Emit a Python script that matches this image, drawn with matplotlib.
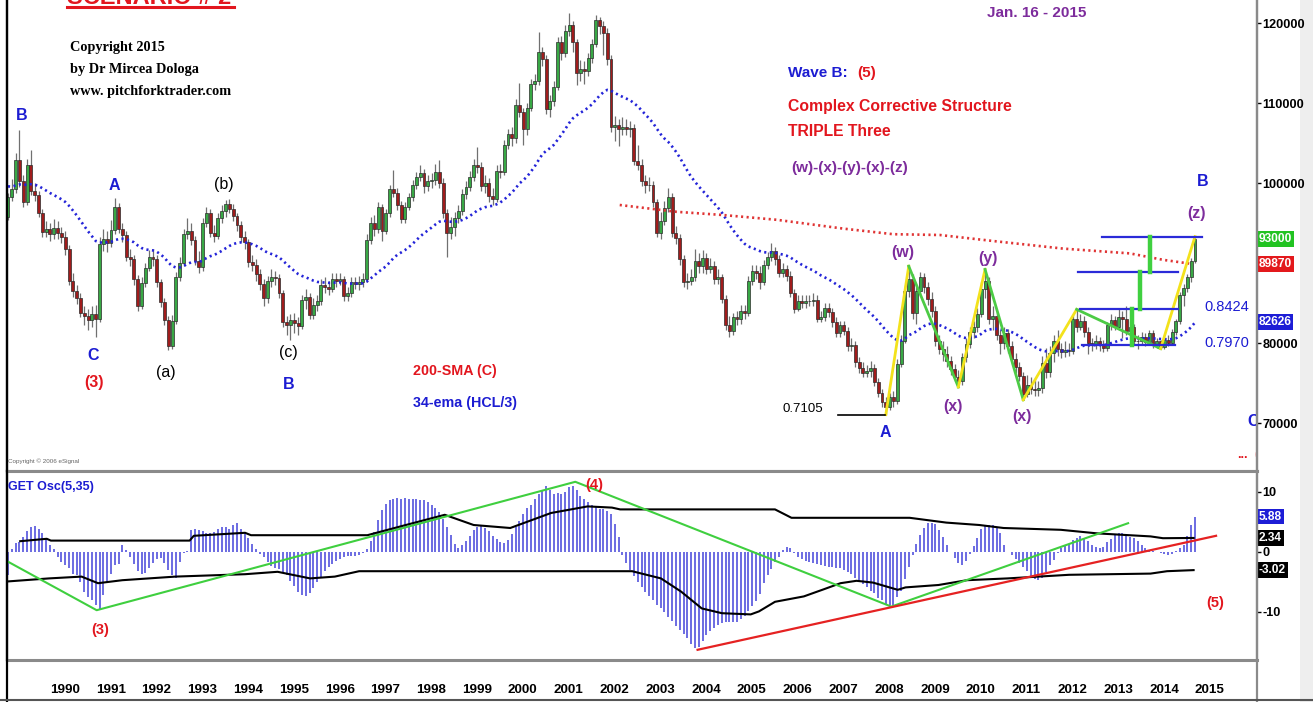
import numpy as np
import matplotlib
matplotlib.use("Agg")
import matplotlib.pyplot as plt
import matplotlib.transforms as mtrans
from matplotlib.lines import Line2D
from matplotlib.patches import Rectangle

plt.rcParams['font.family'] = ['Liberation Sans', 'DejaVu Sans']

# ---------------- data (monthly) ----------------
start_year, start_month = 1989, 2
open_first = 95.8
close = [
    98.3, 99.2, 102.9, 100.2, 97.6, 102.3, 99.0, 98.5, 96.3, 93.9,
    94.3, 93.6, 94.4, 93.7, 93.3, 91.7, 87.7, 86.5, 85.6, 83.8,
    83.4, 82.9, 83.6, 83.0, 92.4, 93.0, 92.5, 94.1, 97.0, 94.3,
    93.5, 90.8, 90.5, 88.0, 84.6, 87.5, 89.4, 90.7, 90.5, 87.6,
    85.1, 82.9, 79.6, 82.8, 88.3, 90.0, 93.6, 94.0, 92.9, 90.2,
    89.5, 95.0, 96.2, 93.8, 93.4, 95.6, 96.5, 97.4, 96.8, 95.9,
    94.7, 93.2, 92.6, 90.1, 89.8, 88.6, 87.4, 85.6, 87.7, 88.2,
    88.1, 86.2, 82.6, 82.2, 82.9, 82.5, 82.1, 85.4, 85.8, 83.5,
    84.8, 85.2, 87.3, 87.0, 86.8, 88.0, 87.8, 88.0, 85.9, 86.2,
    87.6, 87.4, 87.6, 88.0, 92.9, 95.0, 94.2, 97.0, 94.0, 96.2,
    99.3, 98.8, 97.2, 95.5, 97.0, 98.2, 99.8, 100.8, 101.2, 99.6,
    100.2, 100.4, 101.4, 100.0, 96.2, 93.8, 94.5, 95.6, 96.5, 98.6,
    99.5, 100.8, 102.3, 102.0, 99.6, 100.0, 98.4, 98.0, 101.5, 101.4,
    104.8, 106.1, 105.6, 109.8, 108.9, 106.8, 109.4, 112.4, 112.8, 116.4,
    115.5, 109.3, 110.2, 112.0, 117.6, 116.3, 119.0, 119.7, 117.6, 113.8,
    114.3, 114.0, 115.6, 117.4, 120.4, 119.6, 118.8, 115.5, 107.0, 107.2,
    106.8, 107.0, 106.8, 106.9, 102.8, 102.3, 100.2, 99.8, 99.8, 97.6,
    93.8, 95.3, 96.9, 98.2, 93.8, 93.1, 90.5, 87.6, 87.8, 88.2,
    90.3, 89.6, 90.6, 89.3, 89.6, 88.0, 88.2, 85.5, 82.2, 81.5,
    83.2, 83.0, 84.0, 83.8, 87.8, 89.0, 88.8, 87.6, 89.8, 90.7,
    91.5, 90.5, 88.8, 89.2, 88.4, 86.3, 84.3, 85.2, 85.0, 85.3,
    85.2, 85.4, 83.0, 83.2, 84.4, 83.9, 82.6, 81.3, 82.2, 81.5,
    79.6, 79.8, 77.6, 76.9, 76.3, 76.5, 76.9, 75.1, 73.8, 72.6,
    72.0, 73.2, 72.8, 77.4, 80.3, 86.5, 88.0, 83.8, 86.5, 88.2,
    87.0, 85.5, 84.0, 80.2, 79.3, 78.6, 77.8, 76.8, 75.8, 75.2,
    78.2, 79.9, 81.4, 82.0, 83.6, 86.8, 87.8, 83.0, 83.4, 81.0,
    80.0, 81.3, 79.6, 78.0, 77.0, 75.9, 73.6, 74.8, 74.3, 74.1,
    74.4, 77.5, 76.4, 78.8, 80.2, 79.3, 78.9, 79.1, 79.0, 83.0,
    82.0, 82.8, 81.4, 80.0, 79.8, 80.2, 79.7, 79.4, 82.2, 82.9,
    82.0, 83.2, 83.0, 81.5, 82.0, 80.2, 80.3, 80.7, 80.1, 81.2,
    79.8, 80.2, 79.5, 80.4, 80.0, 81.4, 82.7, 86.0, 86.9, 88.3,
    90.3, 93.0]
high = [
    98.8, 100.5, 103.8, 106.6, 101.0, 103.0, 104.1, 100.0, 99.0, 96.8,
    95.2, 95.0, 95.5, 95.2, 94.5, 94.0, 92.3, 88.7, 87.2, 86.2,
    84.6, 84.2, 84.6, 84.8, 93.2, 94.2, 94.0, 95.4, 98.1, 97.5,
    95.0, 94.0, 91.8, 91.0, 88.5, 88.2, 90.0, 91.6, 91.8, 91.0,
    88.0, 85.6, 83.4, 83.5, 88.9, 90.8, 94.2, 95.6, 95.0, 93.4,
    91.5, 95.6, 97.0, 96.8, 94.8, 96.2, 97.2, 97.9, 98.0, 97.4,
    96.3, 95.2, 94.0, 93.0, 91.0, 90.5, 89.2, 88.0, 88.4, 89.2,
    89.0, 88.6, 86.6, 83.4, 83.6, 83.8, 83.2, 86.0, 86.8, 86.2,
    85.6, 86.0, 88.0, 88.2, 87.8, 88.8, 88.8, 88.8, 88.4, 87.0,
    88.2, 88.2, 88.4, 88.8, 93.6, 95.8, 96.0, 97.6, 97.4, 96.8,
    99.8, 101.6, 99.4, 97.8, 97.6, 98.8, 100.4, 101.4, 102.2, 101.8,
    101.0, 101.2, 102.4, 102.9, 100.6, 96.8, 95.8, 96.4, 97.2, 99.2,
    100.2, 101.5, 103.0, 104.5, 102.6, 101.0, 100.6, 99.4, 102.2, 102.4,
    105.4, 106.8, 107.0, 110.5, 112.5, 109.4, 110.0, 113.0, 113.6, 118.9,
    117.0, 116.0, 111.0, 112.8, 118.2, 118.4, 119.8, 121.2, 120.2, 118.0,
    115.4, 115.2, 116.2, 118.0, 121.0, 120.8, 120.2, 119.4, 116.0, 108.4,
    108.0, 108.2, 108.0, 107.8, 107.4, 104.8, 103.0, 101.0, 100.8, 100.2,
    98.0, 96.4, 97.8, 99.4, 98.8, 94.6, 93.6, 91.0, 88.8, 89.2,
    91.8, 91.2, 91.6, 91.2, 90.6, 90.2, 89.2, 88.6, 86.0, 83.4,
    83.8, 84.0, 84.8, 84.8, 88.4, 89.8, 89.8, 89.6, 90.4, 91.4,
    92.5, 92.0, 91.0, 90.0, 89.8, 89.0, 86.8, 86.0, 86.0, 86.0,
    86.0, 86.2, 86.0, 84.0, 85.0, 85.0, 84.4, 83.2, 82.8, 82.8,
    82.0, 80.6, 80.2, 78.2, 77.6, 77.2, 77.8, 77.4, 75.6, 74.2,
    73.2, 73.8, 74.0, 78.0, 81.0, 87.2, 89.6, 88.6, 87.2, 88.9,
    88.8, 87.6, 86.4, 84.6, 81.0, 80.2, 79.6, 78.4, 77.4, 76.6,
    78.8, 80.6, 82.0, 82.8, 84.4, 87.6, 89.2, 88.2, 84.6, 84.0,
    81.6, 82.0, 81.8, 80.2, 78.8, 77.6, 76.4, 76.0, 75.8, 75.4,
    75.2, 78.4, 79.4, 79.6, 81.0, 81.6, 80.0, 80.2, 80.0, 83.6,
    84.2, 83.6, 83.4, 82.0, 80.6, 81.0, 80.8, 80.4, 82.6, 83.6,
    83.4, 84.4, 84.0, 84.6, 82.8, 82.4, 81.0, 81.4, 81.2, 81.6,
    81.6, 80.6, 80.4, 80.8, 81.0, 81.8, 83.0, 86.4, 87.4, 88.6,
    90.6, 93.3]
low = [
    95.4, 97.8, 98.8, 99.5, 97.0, 97.2, 98.5, 97.8, 95.8, 93.3,
    93.2, 92.8, 93.0, 93.0, 92.5, 91.0, 87.2, 85.8, 84.9, 83.2,
    82.2, 81.6, 82.0, 80.8, 82.6, 91.5, 91.4, 92.0, 93.6, 93.8,
    92.6, 90.2, 89.6, 87.3, 84.0, 84.2, 87.0, 89.0, 89.6, 87.0,
    84.5, 82.3, 79.1, 79.3, 82.4, 87.8, 89.6, 93.0, 92.2, 89.7,
    88.8, 89.0, 94.5, 93.2, 92.6, 93.0, 95.0, 95.8, 96.2, 95.2,
    94.0, 92.6, 91.8, 89.5, 89.0, 87.8, 86.6, 84.6, 85.0, 87.0,
    87.2, 85.6, 82.0, 81.0, 80.4, 81.2, 81.0, 81.8, 84.2, 83.0,
    83.0, 84.0, 84.8, 86.2, 86.0, 86.4, 87.0, 87.2, 85.2, 85.2,
    85.8, 86.8, 86.6, 87.0, 87.6, 92.4, 93.4, 93.8, 92.8, 93.6,
    95.8, 98.2, 96.6, 95.0, 95.0, 96.6, 97.8, 99.2, 100.2, 98.8,
    99.0, 99.4, 99.8, 99.4, 95.6, 90.8, 93.0, 93.4, 95.0, 96.0,
    98.0, 99.0, 100.2, 101.2, 99.0, 98.8, 97.6, 97.2, 97.6, 100.6,
    101.0, 104.2, 104.6, 105.0, 108.2, 104.8, 106.0, 109.0, 111.6, 112.2,
    114.6, 108.6, 108.2, 109.6, 111.6, 115.4, 115.8, 118.4, 116.4, 112.2,
    112.8, 112.4, 113.4, 115.0, 117.0, 118.6, 116.0, 114.8, 106.4, 105.2,
    104.6, 106.0, 106.0, 105.8, 102.2, 101.6, 99.6, 98.8, 99.0, 97.0,
    93.2, 93.0, 94.8, 96.4, 93.2, 92.4, 89.8, 87.0, 86.8, 87.2,
    87.8, 88.8, 88.8, 88.6, 88.8, 87.4, 87.4, 85.0, 81.6, 80.8,
    81.0, 82.2, 82.4, 83.0, 83.4, 87.2, 88.0, 86.8, 87.2, 89.2,
    90.2, 89.8, 88.2, 88.2, 87.8, 85.8, 83.8, 84.0, 84.4, 84.4,
    84.6, 84.6, 82.6, 82.6, 82.8, 83.2, 82.0, 80.8, 80.8, 81.0,
    79.0, 79.0, 77.0, 76.2, 75.8, 75.8, 75.8, 74.6, 73.2, 72.0,
    71.05, 71.6, 72.0, 72.4, 77.0, 80.0, 85.8, 83.0, 82.4, 86.0,
    86.2, 84.8, 83.2, 79.6, 78.6, 77.8, 77.0, 76.0, 75.2, 74.5,
    74.8, 77.6, 79.4, 80.6, 81.4, 83.2, 85.6, 82.4, 81.6, 80.4,
    78.6, 79.2, 78.8, 77.4, 76.2, 75.2, 72.9, 73.2, 73.6, 73.4,
    73.4, 73.8, 75.6, 75.8, 77.6, 78.4, 78.1, 78.3, 78.4, 78.6,
    81.4, 81.6, 80.8, 78.6, 79.0, 79.2, 79.0, 78.9, 79.0, 81.6,
    81.6, 81.6, 80.6, 81.0, 81.0, 79.8, 79.2, 79.8, 79.6, 79.8,
    79.4, 79.4, 79.3, 79.2, 79.6, 79.8, 81.0, 82.4, 84.6, 86.4,
    87.6, 90.0]
osc = [
    -3.8, 0.5, 1.5, 1.7, 2.5, 3.5, 4.2, 4.3, 3.8, 3.1,
    2.2, 1.2, 0.5, -0.9, -1.6, -2.2, -2.7, -3.6, -3.8, -5.0,
    -6.6, -7.5, -8.0, -8.8, -9.5, -7.2, -5.0, -3.6, -2.2, -2.0,
    1.2, 0.3, -0.9, -2.0, -3.1, -3.7, -3.5, -2.7, -1.9, -1.2,
    -1.0, -1.9, -3.0, -3.9, -4.4, -1.6, -0.1, 0.2, 3.6, 3.9,
    3.7, 3.5, 3.2, 3.1, 3.3, 3.8, 4.1, 4.1, 3.9, 4.5,
    4.8, 3.9, 3.2, 2.4, 1.4, 0.5, -0.3, -0.8, -1.6, -2.3,
    -2.6, -2.9, -3.4, -3.9, -4.8, -5.6, -6.6, -7.2, -7.4, -6.8,
    -6.0, -5.0, -4.1, -3.2, -2.5, -2.0, -1.5, -1.2, -0.8, -0.7,
    -0.6, -0.6, -0.5, -0.1, 0.5, 1.9, 3.4, 5.4, 7.0, 8.0,
    8.6, 8.9, 9.0, 8.9, 9.0, 8.9, 8.8, 8.8, 8.7, 8.6,
    8.4, 7.9, 7.4, 6.7, 5.5, 4.2, 2.8, 1.4, 0.7, 1.2,
    1.8, 2.6, 3.6, 4.2, 4.5, 4.0, 3.5, 2.7, 2.2, 1.7,
    1.5, 2.0, 3.0, 4.2, 5.2, 6.3, 7.3, 7.8, 8.9, 9.7,
    10.2, 11.0, 10.3, 9.7, 9.8, 9.6, 10.0, 10.9, 11.0, 10.4,
    9.4, 8.8, 8.4, 7.8, 7.5, 7.2, 7.2, 6.8, 6.3, 4.6,
    2.5, -0.5, -1.9, -3.0, -4.0, -5.0, -5.8, -6.6, -7.4, -8.0,
    -8.8, -9.4, -10.0, -10.8, -11.5, -12.3, -13.0, -13.6, -14.4, -15.3,
    -16.0, -15.8, -14.8, -13.9, -13.2, -12.7, -12.2, -11.9, -11.7, -11.6,
    -11.6, -11.6, -11.2, -10.6, -9.8, -9.0, -8.2, -7.0, -5.2, -3.8,
    -2.8, -1.6, -0.9, 0.3, 0.9, 0.6, -0.2, -0.8, -1.1, -1.5,
    -1.6, -1.8, -2.0, -2.2, -2.3, -2.5, -2.5, -2.6, -2.7, -3.0,
    -3.3, -3.6, -4.3, -4.8, -5.3, -5.8, -6.5, -6.9, -7.6, -8.0,
    -8.6, -8.8, -8.8, -7.5, -6.5, -4.5, -2.5, -0.5, 1.3, 2.8,
    4.0, 4.8, 4.8, 4.6, 3.6, 2.5, 1.2, 0.0, -1.0, -1.8,
    -2.2, -1.5, -0.4, 1.0, 2.3, 3.9, 4.4, 4.5, 4.5, 4.0,
    3.1, 1.2, 0.0, -0.5, -1.2, -1.9, -2.5, -3.1, -4.0, -4.5,
    -4.7, -4.3, -3.3, -2.1, -1.4, -0.1, 0.6, 1.2, 1.4, 2.0,
    2.3, 2.6, 2.4, 1.8, 1.2, 0.8, 0.6, 0.8, 1.6, 2.2,
    2.8, 3.1, 3.1, 2.7, 2.5, 2.3, 1.8, 1.2, 0.7, 0.4,
    0.2, 0.0, -0.1, -0.3, -0.5, -0.3, 0.1, 0.6, 1.2, 2.6,
    4.5, 5.88]
ema_seed = 99.7          # 34-ema value at the left edge of the chart
sma200_t = [2002.44, 2003.68, 2004.69, 2005.87, 2007.32, 2008.41,
            2009.43, 2010.67, 2012.12, 2013.58, 2014.30, 2014.95]
sma200_v = [97.25, 96.4, 96.0, 95.4, 94.3, 93.6, 93.5, 92.7, 91.8, 91.2, 90.4, 89.87]
band_up_t = [1989.35, 1989.93, 1990.02, 1993.05, 1993.14, 1994.26, 1994.39, 1996.93,
             1997.82, 1998.62, 1999.25, 2000.05, 2000.94, 2001.74, 2002.27, 2002.45,
             2005.83, 2006.19, 2008.77, 2009.57, 2010.29, 2010.82, 2012.07, 2012.87,
             2014.03, 2014.30, 2014.97]
band_up_v = [1.8, 2.2, 1.9, 1.9, 2.7, 3.2, 2.8, 2.8, 4.6, 6.2, 4.5, 4.0, 6.5, 7.6,
             7.4, 7.1, 7.1, 5.7, 5.7, 4.9, 4.5, 4.0, 3.7, 3.1, 2.6, 2.3, 2.34]
band_lo_t = [1989.09, 1989.98, 1990.69, 1991.05, 1991.58, 1992.74, 1994.26, 1994.97,
             1995.68, 1996.22, 1996.75, 2002.45, 2002.71, 2003.34, 2003.78, 2004.23,
             2004.67, 2005.30, 2005.48, 2005.83, 2006.46, 2006.90, 2007.26, 2007.61,
             2007.97, 2008.51, 2008.68, 2009.40, 2010.02, 2010.91, 2012.25, 2014.03,
             2014.39, 2014.97]
band_lo_v = [-4.9, -4.4, -4.1, -5.2, -4.7, -4.1, -3.7, -3.3, -4.4, -4.1, -3.2, -3.2,
             -3.2, -4.4, -6.6, -9.4, -10.2, -10.4, -9.9, -8.3, -7.4, -6.2, -5.2, -4.8,
             -5.1, -6.3, -5.9, -5.5, -4.7, -4.4, -3.8, -3.6, -3.2, -3.02]
osc_green_t = [1989.08, 1991.02, 2001.47, 2008.37, 2013.54]
osc_green_v = [-1.6, -9.7, 11.7, -9.1, 4.8]
osc_red_t = [2004.14, 2015.46]
osc_red_v = [-16.3, 2.7]
years = list(range(1990, 2016))
year_labels = [str(y) for y in years]
price_ticks = [70, 80, 100, 110, 120]
price_tick_labels = ['70000', '80000', '100000', '110000', '120000']
osc_ticks = [-10, 0, 10]
osc_tick_labels = ['-10', '0', '10']
price_tags = ['93000', '89870', '82626']
price_tag_vals = [93.0, 89.87, 82.626]
osc_tags = ['5.88', '2.34', '-3.02']
osc_tag_vals = [5.88, 2.34, -3.02]
wave_pivots = [230, 236, 249, 256, 266, 280, 302, 311]   # A,(w),(x),(y),(x),top,low,(z)
fib_levels = [93.2, 88.9, 84.24, 79.70]
fib_t0 = [2012.97, 2012.44, 2012.49, 2012.53]
fib_t1 = [2015.15, 2014.63, 2014.63, 2014.56]
measure_t = [2014.02, 2013.80, 2013.63]
lowA_t = [2007.20, 2008.23]

# ---------------- styling ----------------
W, H = 1313, 702
BLUE = '#1c1cd2'
RED = '#e2161e'
PURPLE = '#7d2c9c'
GREEN_C = '#38a845'
RED_C = '#a01c1c'
GREY = '#8a8a8a'

fig = plt.figure(figsize=(W / 100, H / 100), dpi=100)
fig.patch.set_facecolor('white')
fig.add_artist(Rectangle((1300 / W, 0), 13 / W, 1, transform=fig.transFigure,
                         facecolor='#eeeeee', edgecolor='none', zorder=0))

ax1 = fig.add_axes([7 / W, 1 - 471 / H, 1250 / W, 471 / H])
ax2 = fig.add_axes([7 / W, 1 - 660 / H, 1250 / W, 189 / H], sharex=ax1)

n = len(close)
t = start_year + (start_month - 1 + np.arange(n)) / 12.0
C = np.array(close)
O = np.concatenate([[open_first], C[:-1]])
Hh = np.maximum(np.array(high), np.maximum(O, C))
Ll = np.minimum(np.array(low), np.minimum(O, C))
up = C >= O
blo = np.minimum(O, C)
bhi = np.maximum(O, C)

# candles
ax1.vlines(t, Ll, Hh, color='#707070', lw=0.9, zorder=2)
ax1.bar(t[up], (bhi - blo)[up], bottom=blo[up], width=0.064, color=GREEN_C,
        edgecolor='#2b2b2b', lw=0.5, zorder=3)
ax1.bar(t[~up], (bhi - blo)[~up], bottom=blo[~up], width=0.064, color=RED_C,
        edgecolor='#2b2b2b', lw=0.5, zorder=3)

# 34-ema of (H+C+L)/3
tp = (Hh + Ll + C) / 3.0
alpha = 2.0 / 35.0
ema = np.empty(n)
prev = ema_seed
for k in range(n):
    prev = prev + alpha * (tp[k] - prev)
    ema[k] = prev
ax1.plot(t, ema, color='#2424d8', lw=1.9, linestyle=(0, (0.8, 1.3)), zorder=4)
ax1.plot(sma200_t, sma200_v, color='#e03434', lw=1.9, linestyle=(0, (0.8, 1.3)), zorder=4)

# wave legs (up legs yellow, down legs green)
for a, b in zip(wave_pivots[:-1], wave_pivots[1:]):
    going_up = C[b] > C[a]
    ya = Ll[a] if going_up else Hh[a]
    yb = Hh[b] if going_up else Ll[b]
    ax1.plot([t[a], t[b]], [ya, yb], color='#f3e21c' if going_up else '#4ccb45',
             lw=2.0, zorder=5)

# fib levels and measured moves
for lv, a, b in zip(fib_levels, fib_t0, fib_t1):
    ax1.plot([a, b], [lv, lv], color='#2b2bd8', lw=1.6, zorder=5)
for k, xm in enumerate(measure_t):
    ax1.plot([xm, xm], [fib_levels[k], fib_levels[k + 1]], color='#40d040', lw=3.2, zorder=6)
ax1.plot(lowA_t, [Ll[wave_pivots[0]]] * 2, color='black', lw=1.2, zorder=5)

ax1.set_xlim(1989.062, 2016.354)
ax1.set_ylim(64.0, 122.875)
ax1.yaxis.tick_right()
ax1.set_yticks(price_ticks)
ax1.set_yticklabels(price_tick_labels, fontsize=9.2, fontweight='bold')
ax1.tick_params(axis='y', length=3, width=1, pad=1, colors='black')
ax1.tick_params(axis='x', bottom=False, labelbottom=False)
ax1.spines['top'].set_visible(False)
ax1.spines['left'].set_color('black'); ax1.spines['left'].set_linewidth(1.6)
ax1.spines['right'].set_color(GREY); ax1.spines['right'].set_linewidth(1.6)
ax1.spines['bottom'].set_color(GREY); ax1.spines['bottom'].set_linewidth(2.2)

bt1 = mtrans.blended_transform_factory(ax1.transAxes, ax1.transData)
for s, v, col in zip(price_tags, price_tag_vals, ['#22c322', '#e3191c', '#1d1dd6']):
    ax1.text(1.0015, v, s, transform=bt1, ha='left', va='center', color='white',
             fontsize=8.6, fontweight='bold', clip_on=False, zorder=10,
             bbox=dict(boxstyle='square,pad=0.14', fc=col, ec='none'))

# ---------------- oscillator ----------------
ov = np.array(osc)
ax2.vlines(t, 0, ov, color='#6b6be2', lw=1.4, zorder=2)
ax2.plot(band_up_t, band_up_v, color='black', lw=1.5, zorder=3)
ax2.plot(band_lo_t, band_lo_v, color='black', lw=1.5, zorder=3)
ax2.plot(osc_green_t, osc_green_v, color='#3fcf3f', lw=1.5, zorder=4)
ax2.plot(osc_red_t, osc_red_v, color='#e52222', lw=1.6, zorder=4)
ax2.set_ylim(-18.0, 13.5)
ax2.yaxis.tick_right()
ax2.set_yticks(osc_ticks)
ax2.set_yticklabels(osc_tick_labels, fontsize=9.2, fontweight='bold')
ax2.tick_params(axis='y', length=3, width=1, pad=1)
ax2.set_xticks(years)
ax2.set_xticklabels(year_labels, fontsize=9.6, fontweight='bold')
for lab in ax2.get_xticklabels():
    lab.set_ha('left')
ax2.tick_params(axis='x', length=0, pad=17)
ax2.spines['left'].set_color('black'); ax2.spines['left'].set_linewidth(1.6)
for s in ['right', 'top', 'bottom']:
    ax2.spines[s].set_color(GREY)
    ax2.spines[s].set_linewidth(2.2 if s != 'right' else 1.6)

bt2 = mtrans.blended_transform_factory(ax2.transAxes, ax2.transData)
for s, v, col in zip(osc_tags, osc_tag_vals, ['#1d1dd6', 'black', 'black']):
    ax2.text(1.0015, v, s, transform=bt2, ha='left', va='center', color='white',
             fontsize=8.6, fontweight='bold', clip_on=False, zorder=10,
             bbox=dict(boxstyle='square,pad=0.14', fc=col, ec='none'))

# frame lines
fig.add_artist(Line2D([7 / W, 7 / W], [0, 1], transform=fig.transFigure, color='black', lw=1.6))
fig.add_artist(Line2D([1257 / W, 1257 / W], [0, 1], transform=fig.transFigure, color=GREY, lw=1.6))
fig.add_artist(Line2D([0, 1], [1 - 700 / H] * 2, transform=fig.transFigure, color='#555555', lw=1.5))


# ---------------- annotations ----------------
def ftxt(x, y, s, **kw):
    kw.setdefault('va', 'center')
    kw.setdefault('ha', 'center')
    return fig.text(x / W, 1 - y / H, s, **kw)


# title: only its lower part is visible at the top edge, as in the reference
ftxt(67, 4, 'SCENARIO # 2', ha='left', va='baseline', color=RED, fontsize=17, fontweight='bold')
fig.add_artist(Line2D([67 / W, 234 / W], [1 - 7 / H] * 2, transform=fig.transFigure, color=RED, lw=2.2))
for yy, s in zip([47, 70, 92], ['Copyright 2015', 'by Dr Mircea Dologa', 'www. pitchforktrader.com']):
    ftxt(70, yy, s, ha='left', family=['Liberation Serif', 'DejaVu Serif'], fontweight='bold',
         fontsize=10.3, color='black')
ftxt(987, 13, 'Jan. 16 - 2015', ha='left', color=PURPLE, fontsize=11, fontweight='bold')
ftxt(788, 73, 'Wave B:', ha='left', color=BLUE, fontsize=11, fontweight='bold')
ftxt(857, 73, '(5)', ha='left', color=RED, fontsize=11, fontweight='bold')
ftxt(788, 107, 'Complex Corrective Structure', ha='left', color=RED, fontsize=11.3, fontweight='bold')
ftxt(788, 132, 'TRIPLE Three', ha='left', color=RED, fontsize=11.3, fontweight='bold')
ftxt(791, 168, '(w)-(x)-(y)-(x)-(z)', ha='left', color=PURPLE, fontsize=11, fontweight='bold')

labels = [('B', 22, 115, BLUE, 'bold'), ('A', 114, 185, BLUE, 'bold'), ('C', 93, 355, BLUE, 'bold'),
          ('(3)', 94, 382, RED, 'bold'), ('(a)', 166, 372, 'black', 'normal'),
          ('(b)', 224, 185, 'black', 'normal'), ('(c)', 288, 353, 'black', 'normal'),
          ('B', 289, 384, BLUE, 'bold'), ('A', 885, 433, BLUE, 'bold'),
          ('(w)', 903, 253, PURPLE, 'bold'), ('(x)', 953, 407, PURPLE, 'bold'),
          ('(y)', 988, 259, PURPLE, 'bold'), ('(x)', 1022, 416, PURPLE, 'bold'),
          ('(z)', 1197, 214, PURPLE, 'bold'), ('B', 1203, 181, BLUE, 'bold')]
for s, x, y, col, wt in labels:
    ftxt(x, y, s, color=col, fontsize=11.5, fontweight=wt)

ftxt(413, 371, '200-SMA (C)', ha='left', color=RED, fontsize=10.3, fontweight='bold')
ftxt(413, 403, '34-ema (HCL/3)', ha='left', color=BLUE, fontsize=10.3, fontweight='bold')
ftxt(803, 409, '0.7105', color='black', fontsize=9.5)
ftxt(1227, 307, '0.8424', color=BLUE, fontsize=10.5)
ftxt(1227, 343, '0.7970', color=BLUE, fontsize=10.5)
ftxt(8, 461, 'Copyright \u00a9 2006 eSignal', ha='left', color='#666666', fontsize=4.5)
ftxt(8, 487, 'GET Osc(5,35)', ha='left', color=BLUE, fontsize=9, fontweight='bold')
ftxt(100, 630, '(3)', color=RED, fontsize=10.5, fontweight='bold')
ftxt(594, 485, '(4)', color=RED, fontsize=10.5, fontweight='bold')
ftxt(1215, 603, '(5)', color=RED, fontsize=10.5, fontweight='bold')

# edge labels partly hidden behind the price axis
ax1.text(2016.14, 70.25, 'C', color=BLUE, fontsize=11.5, fontweight='bold',
         ha='left', va='center', clip_on=True)
ax1.text(2016.04, 66.0, '...', color=RED, fontsize=9, fontweight='bold',
         ha='center', va='center', clip_on=True)
ax1.text(2016.30, 66.0, '(', color=RED, fontsize=11.5, fontweight='bold',
         ha='left', va='center', clip_on=True)

fig.savefig('out.png', dpi=100)
